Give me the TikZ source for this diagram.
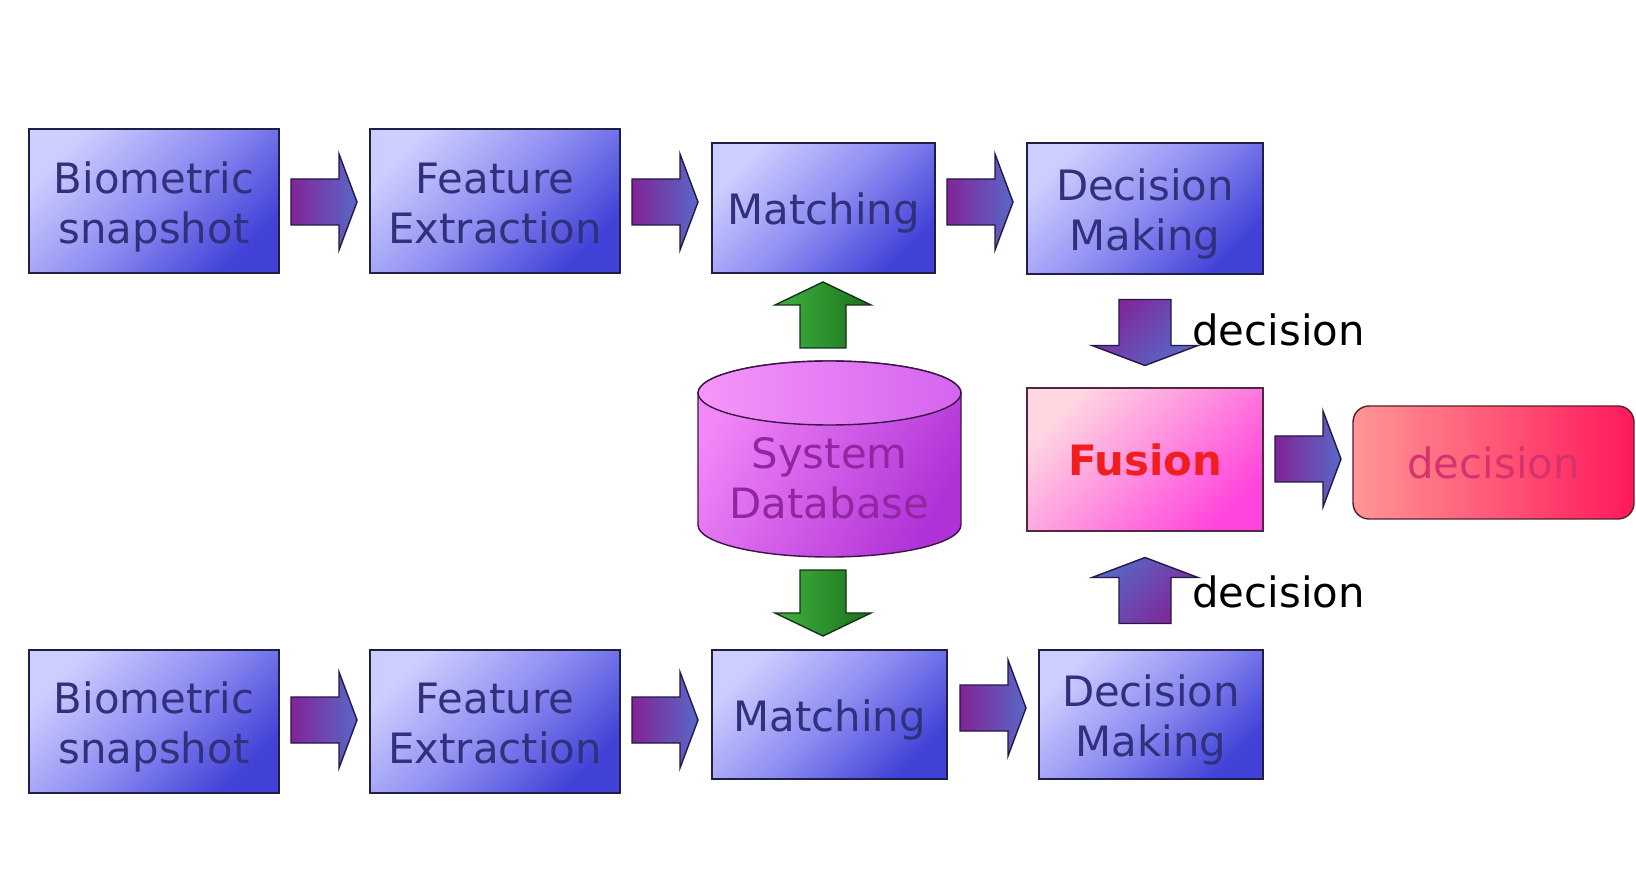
\documentclass[tikz,border=0pt]{standalone}
\usepackage{fontspec}
\setmainfont{DejaVu Sans}
\usetikzlibrary{calc}
\definecolor{boxlight}{RGB}{205,205,255}
\definecolor{boxmid}{RGB}{142,142,242}
\definecolor{boxdark}{RGB}{66,66,216}
\definecolor{boxtext}{RGB}{48,48,125}
\definecolor{boxline}{RGB}{30,30,70}
\definecolor{arrpurple}{RGB}{130,36,150}
\definecolor{arrblue}{RGB}{88,104,200}
\definecolor{arrline}{RGB}{35,25,70}
\definecolor{greenlight}{RGB}{64,180,64}
\definecolor{greendark}{RGB}{28,112,28}
\definecolor{greenline}{RGB}{20,50,20}
\definecolor{dblight}{RGB}{242,135,248}
\definecolor{dbdark}{RGB}{175,50,215}
\definecolor{dbtoplight}{RGB}{246,150,250}
\definecolor{dbtopdark}{RGB}{212,100,238}
\definecolor{dbtext}{RGB}{145,38,160}
\definecolor{dbline}{RGB}{60,20,70}
\definecolor{fuslight}{RGB}{255,215,225}
\definecolor{fusdark}{RGB}{255,70,220}
\definecolor{fustext}{RGB}{240,30,30}
\definecolor{fusline}{RGB}{80,40,70}
\definecolor{outlight}{RGB}{255,150,150}
\definecolor{outdark}{RGB}{255,25,90}
\definecolor{outtext}{RGB}{215,50,110}
\definecolor{outline}{RGB}{90,30,40}
\begin{document}
\begin{tikzpicture}[x=0.02cm,y=-0.02cm,
  txt/.style={font=\fontsize{23.8}{28.5}\selectfont, align=center},
  blk/.style={txt, draw=boxline, line width=0.8pt, inner sep=0pt, text=boxtext, text height=24pt,
    top color=boxlight, bottom color=boxdark, middle color=boxmid, shading angle=45},
  blktwo/.style={blk, text height=48pt, text depth=0pt},
  barrow/.style={draw=arrline, line width=0.8pt},
  shright/.style={left color=arrpurple, right color=arrblue},
  shdown/.style={top color=arrpurple, bottom color=arrblue, shading angle=45},
  shup/.style={top color=arrblue, bottom color=arrpurple, shading angle=45},
  garrow/.style={draw=greenline, line width=0.8pt, left color=greenlight, right color=greendark},
  lbl/.style={txt, text=black, inner sep=0pt, anchor=west},
  rarr/.pic={\path[pic actions] (-33,-23) -- (15,-23) -- (15,-48) -- (33,0) -- (15,48) -- (15,23) -- (-33,23) -- cycle;},
  darr/.pic={\path[pic actions] (-26,-33) -- (26,-33) -- (26,13) -- (53,13) -- (0,33) -- (-53,13) -- (-26,13) -- cycle;},
  uarr/.pic={\path[pic actions] (-26,33) -- (26,33) -- (26,-13) -- (53,-13) -- (0,-33) -- (-53,-13) -- (-26,-13) -- cycle;},
  gdarr/.pic={\path[pic actions] (-23,-33) -- (23,-33) -- (23,10) -- (48,10) -- (0,33) -- (-48,10) -- (-23,10) -- cycle;},
  guarr/.pic={\path[pic actions] (-23,33) -- (23,33) -- (23,-10) -- (48,-10) -- (0,-33) -- (-48,-10) -- (-23,-10) -- cycle;}
]
\fill[white] (0,0) rectangle (1636,891);

% top row
\node[blktwo, minimum width=5cm, minimum height=2.88cm] (bio1) at (154,201) {Biometric\\snapshot};
\node[blktwo, minimum width=5cm, minimum height=2.88cm] (feat1) at (495,201) {Feature\\Extraction};
\node[blk, minimum width=4.46cm, minimum height=2.6cm] (m1) at (823.5,208) {Matching};
\node[blktwo, minimum width=4.72cm, minimum height=2.62cm] (d1) at (1145,208.5) {Decision\\Making};

% bottom row
\node[blktwo, minimum width=5cm, minimum height=2.86cm] (bio2) at (154,721.5) {Biometric\\snapshot};
\node[blktwo, minimum width=5cm, minimum height=2.86cm] (feat2) at (495,721.5) {Feature\\Extraction};
\node[blk, minimum width=4.7cm, minimum height=2.58cm] (m2) at (829.5,714.5) {Matching};
\node[blktwo, minimum width=4.48cm, minimum height=2.58cm] (d2) at (1151,714.5) {Decision\\Making};

% fusion and output
\node[txt, draw=fusline, line width=0.8pt, inner sep=0pt, minimum width=4.72cm, minimum height=2.86cm,
  top color=fuslight, bottom color=fusdark, shading angle=45, text=fustext, font=\fontsize{23.8}{28.5}\selectfont\bfseries]
  (fus) at (1145,459.5) {Fusion};
\node[txt, draw=outline, line width=0.8pt, inner sep=0pt, minimum width=5.62cm, minimum height=2.26cm,
  rounded corners=0.32cm, left color=outlight, right color=outdark, text=outtext]
  (out) at (1493.5,462.5) {decision};

% database cylinder
\path[draw=dbline, line width=0.8pt, top color=dblight, bottom color=dbdark, shading angle=60]
  (698,393) -- (698,525) arc[start angle=180, end angle=360, x radius=2.63cm, y radius=0.64cm]
  -- (961,393) arc[start angle=0, end angle=180, x radius=2.63cm, y radius=0.64cm] -- cycle;
\path[draw=dbline, line width=0.8pt, left color=dbtoplight, right color=dbtopdark]
  (829.5,393) ellipse[x radius=2.63cm, y radius=0.64cm];
\node[txt, text=dbtext, inner sep=0pt] (db) at (829.5,478) {System\\Database};

% block arrows (connectors)
\pic[barrow, shright] at (324,202) {rarr};
\pic[barrow, shright] at (665,202) {rarr};
\pic[barrow, shright] at (980,202) {rarr};
\pic[barrow, shright] at (324,720) {rarr};
\pic[barrow, shright] at (665,720) {rarr};
\pic[barrow, shright] at (993,708) {rarr};
\pic[barrow, shright] at (1308,459) {rarr};
\pic[barrow, shdown] at (1145,332.5) {darr};
\pic[barrow, shup] at (1145,590.5) {uarr};
\pic[garrow] at (823,315) {guarr};
\pic[garrow] at (823,603) {gdarr};

% labels
\node[lbl] (l1) at (1192,330) {decision};
\node[lbl] (l2) at (1192,592) {decision};
\end{tikzpicture}
\end{document}
